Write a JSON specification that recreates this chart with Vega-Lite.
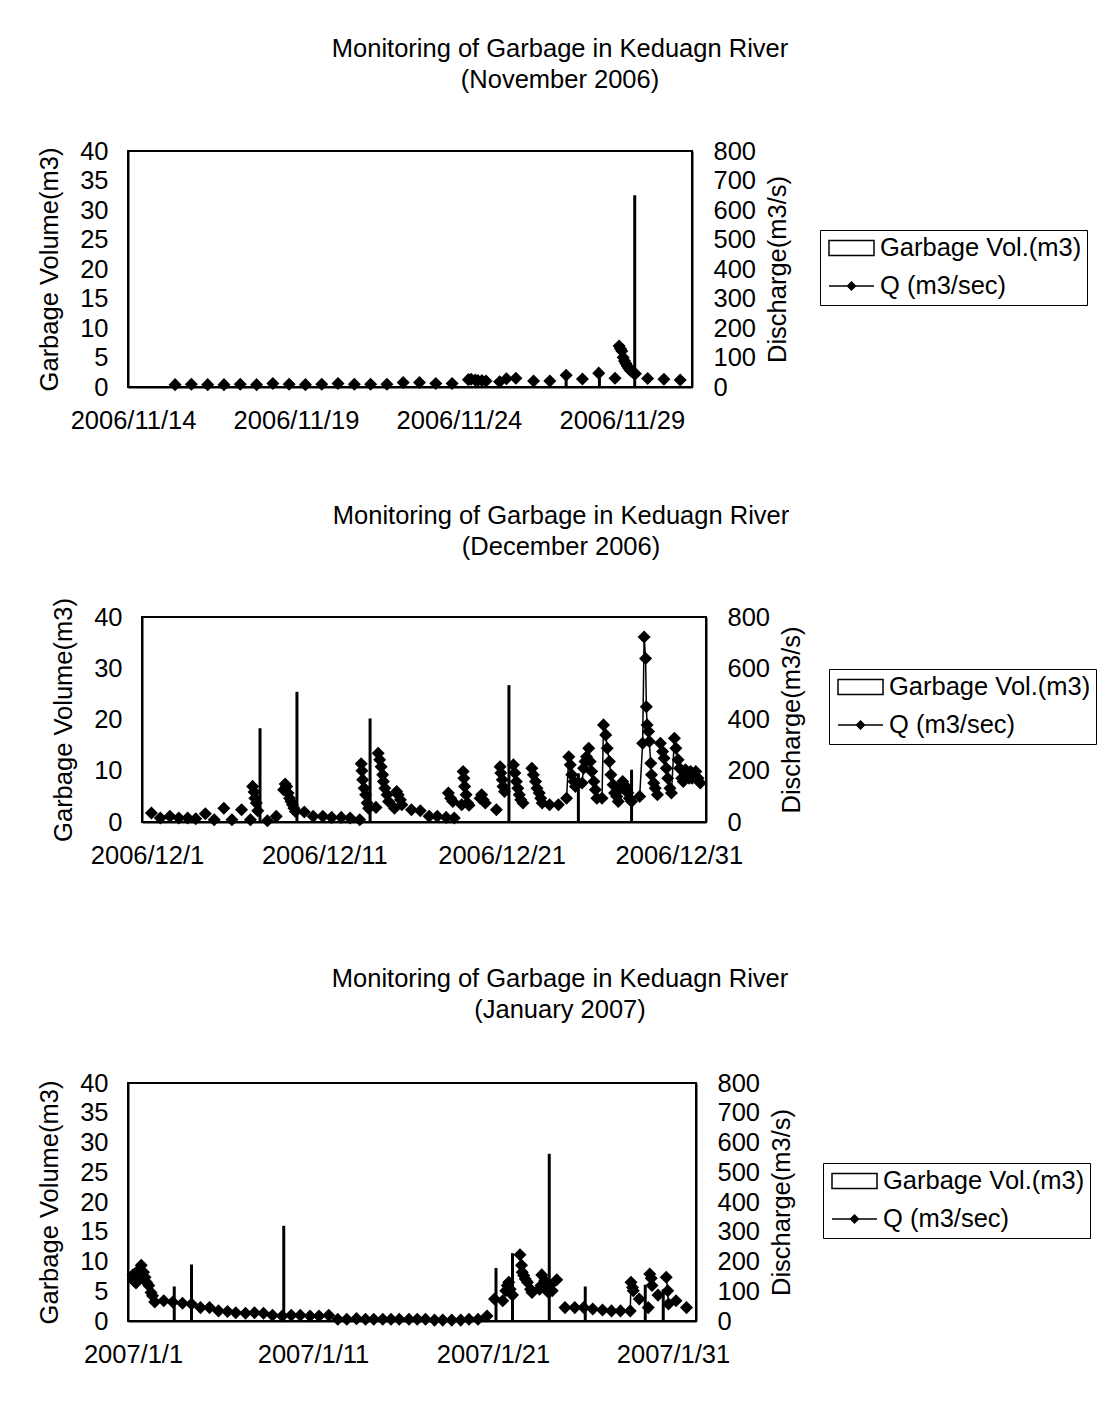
{
  "$schema": "https://vega.github.io/schema/vega-lite/v6.json",
  "background": "white",
  "padding": {"left": 36, "top": 35, "right": 0, "bottom": 0},
  "config": {
    "font": "Liberation Sans",
    "view": {"stroke": "black", "strokeWidth": 2},
    "axis": {"labelFontSize": 25.5, "titleFontSize": 25.5, "titleFontWeight": "normal", "labelColor": "black", "titleColor": "black", "grid": false, "domainColor": "black", "domainWidth": 2, "ticks": false, "labelOverlap": false, "labelFlush": false},
    "axisX": {"labelPadding": 21},
    "axisLeft": {"labelPadding": 20, "titlePadding": 17},
    "axisRight": {"labelPadding": 21, "titlePadding": 10, "titleAngle": 270, "titleBaseline": "top"},
    "title": {"fontSize": 25.5, "fontWeight": "normal", "color": "black", "lineHeight": 31, "anchor": "middle", "frame": "group"},
    "legend": {"title": null, "orient": "none", "strokeColor": "black", "fillColor": "white", "padding": 5, "labelFontSize": 25.5, "labelColor": "black", "labelLimit": 400, "symbolSize": 576, "symbolStrokeWidth": 1.5, "rowPadding": 11, "labelOffset": 29}
  },
  "datasets": {
    "novG": [
      {"t": "2006-11-27T07:00", "g": 1.9},
      {"t": "2006-11-28T07:30", "g": 2.4},
      {"t": "2006-11-29T09:30", "g": 32.5}
    ],
    "novQ": [
      {"t": "2006-11-15T07:00", "q": 8, "s": 1},
      {"t": "2006-11-15T19:00", "q": 9, "s": 2},
      {"t": "2006-11-16T07:00", "q": 8, "s": 3},
      {"t": "2006-11-16T19:00", "q": 8, "s": 4},
      {"t": "2006-11-17T07:00", "q": 9, "s": 5},
      {"t": "2006-11-17T19:00", "q": 8, "s": 6},
      {"t": "2006-11-18T07:00", "q": 12, "s": 7},
      {"t": "2006-11-18T19:00", "q": 9, "s": 8},
      {"t": "2006-11-19T07:00", "q": 8, "s": 9},
      {"t": "2006-11-19T19:00", "q": 9, "s": 10},
      {"t": "2006-11-20T07:00", "q": 12, "s": 11},
      {"t": "2006-11-20T19:00", "q": 9, "s": 12},
      {"t": "2006-11-21T07:00", "q": 9, "s": 13},
      {"t": "2006-11-21T19:00", "q": 9, "s": 14},
      {"t": "2006-11-22T07:00", "q": 15, "s": 15},
      {"t": "2006-11-22T19:00", "q": 15, "s": 16},
      {"t": "2006-11-23T07:00", "q": 12, "s": 17},
      {"t": "2006-11-23T19:00", "q": 12, "s": 18},
      {"t": "2006-11-24T07:00", "q": 25, "s": 19},
      {"t": "2006-11-24T09:00", "q": 26, "s": 19},
      {"t": "2006-11-24T12:00", "q": 24, "s": 19},
      {"t": "2006-11-24T14:00", "q": 22, "s": 19},
      {"t": "2006-11-24T17:00", "q": 22, "s": 19},
      {"t": "2006-11-24T20:00", "q": 20, "s": 19},
      {"t": "2006-11-25T06:00", "q": 18, "s": 20},
      {"t": "2006-11-25T11:00", "q": 28, "s": 21},
      {"t": "2006-11-25T18:00", "q": 30, "s": 22},
      {"t": "2006-11-26T07:00", "q": 20, "s": 23},
      {"t": "2006-11-26T19:00", "q": 20, "s": 24},
      {"t": "2006-11-27T07:00", "q": 40, "s": 25},
      {"t": "2006-11-27T19:00", "q": 27, "s": 26},
      {"t": "2006-11-28T07:00", "q": 47, "s": 27},
      {"t": "2006-11-28T19:00", "q": 30, "s": 28},
      {"t": "2006-11-28T22:00", "q": 139, "s": 29},
      {"t": "2006-11-28T23:00", "q": 130, "s": 29},
      {"t": "2006-11-29T00:00", "q": 122, "s": 29},
      {"t": "2006-11-29T01:00", "q": 100, "s": 29},
      {"t": "2006-11-29T02:00", "q": 88, "s": 29},
      {"t": "2006-11-29T03:00", "q": 80, "s": 29},
      {"t": "2006-11-29T04:00", "q": 71, "s": 29},
      {"t": "2006-11-29T05:00", "q": 64, "s": 29},
      {"t": "2006-11-29T06:00", "q": 58, "s": 29},
      {"t": "2006-11-29T07:00", "q": 54, "s": 29},
      {"t": "2006-11-29T08:00", "q": 50, "s": 29},
      {"t": "2006-11-29T09:00", "q": 47, "s": 29},
      {"t": "2006-11-29T10:00", "q": 45, "s": 29},
      {"t": "2006-11-29T19:00", "q": 29, "s": 30},
      {"t": "2006-11-30T07:00", "q": 26, "s": 31},
      {"t": "2006-11-30T19:00", "q": 24, "s": 32}
    ],
    "decG": [
      {"t": "2006-12-07T09:00", "g": 18.3},
      {"t": "2006-12-09T11:00", "g": 25.4},
      {"t": "2006-12-13T14:00", "g": 20.2},
      {"t": "2006-12-21T10:00", "g": 26.7},
      {"t": "2006-12-25T08:00", "g": 9.5},
      {"t": "2006-12-28T08:00", "g": 10.2}
    ],
    "decQ": [
      {"t": "2006-12-01T06:00", "q": 35, "s": 1},
      {"t": "2006-12-01T18:00", "q": 16, "s": 2},
      {"t": "2006-12-02T07:00", "q": 22, "s": 3},
      {"t": "2006-12-02T19:00", "q": 16, "s": 4},
      {"t": "2006-12-03T07:00", "q": 16, "s": 5},
      {"t": "2006-12-03T18:00", "q": 13, "s": 6},
      {"t": "2006-12-04T07:00", "q": 32, "s": 7},
      {"t": "2006-12-04T19:00", "q": 9, "s": 8},
      {"t": "2006-12-05T08:00", "q": 54, "s": 9},
      {"t": "2006-12-05T19:00", "q": 9, "s": 10},
      {"t": "2006-12-06T08:00", "q": 48, "s": 11},
      {"t": "2006-12-06T20:00", "q": 9, "s": 12},
      {"t": "2006-12-06T23:00", "q": 139, "s": 13},
      {"t": "2006-12-07T01:00", "q": 117, "s": 13},
      {"t": "2006-12-07T02:00", "q": 93, "s": 13},
      {"t": "2006-12-07T04:00", "q": 74, "s": 13},
      {"t": "2006-12-07T06:00", "q": 44, "s": 13},
      {"t": "2006-12-07T19:00", "q": 5, "s": 14},
      {"t": "2006-12-08T07:00", "q": 22, "s": 15},
      {"t": "2006-12-08T17:00", "q": 126, "s": 16},
      {"t": "2006-12-08T19:00", "q": 148, "s": 16},
      {"t": "2006-12-08T21:00", "q": 139, "s": 16},
      {"t": "2006-12-08T23:00", "q": 113, "s": 16},
      {"t": "2006-12-09T01:00", "q": 93, "s": 16},
      {"t": "2006-12-09T03:00", "q": 80, "s": 16},
      {"t": "2006-12-09T05:00", "q": 67, "s": 16},
      {"t": "2006-12-09T07:00", "q": 54, "s": 16},
      {"t": "2006-12-09T09:00", "q": 41, "s": 16},
      {"t": "2006-12-09T21:00", "q": 39, "s": 17},
      {"t": "2006-12-10T09:00", "q": 22, "s": 18},
      {"t": "2006-12-10T22:00", "q": 22, "s": 19},
      {"t": "2006-12-11T10:00", "q": 18, "s": 20},
      {"t": "2006-12-11T23:00", "q": 18, "s": 21},
      {"t": "2006-12-12T11:00", "q": 16, "s": 22},
      {"t": "2006-12-13T00:00", "q": 9, "s": 23},
      {"t": "2006-12-13T02:00", "q": 227, "s": 24},
      {"t": "2006-12-13T03:00", "q": 200, "s": 24},
      {"t": "2006-12-13T04:00", "q": 165, "s": 24},
      {"t": "2006-12-13T06:00", "q": 132, "s": 24},
      {"t": "2006-12-13T08:00", "q": 106, "s": 24},
      {"t": "2006-12-13T10:00", "q": 74, "s": 24},
      {"t": "2006-12-13T12:00", "q": 54, "s": 24},
      {"t": "2006-12-13T22:00", "q": 57, "s": 25},
      {"t": "2006-12-14T01:00", "q": 268, "s": 26},
      {"t": "2006-12-14T03:00", "q": 243, "s": 26},
      {"t": "2006-12-14T05:00", "q": 216, "s": 26},
      {"t": "2006-12-14T07:00", "q": 184, "s": 26},
      {"t": "2006-12-14T08:00", "q": 158, "s": 26},
      {"t": "2006-12-14T10:00", "q": 132, "s": 26},
      {"t": "2006-12-14T13:00", "q": 106, "s": 26},
      {"t": "2006-12-14T15:00", "q": 80, "s": 26},
      {"t": "2006-12-14T23:00", "q": 54, "s": 27},
      {"t": "2006-12-15T02:00", "q": 119, "s": 28},
      {"t": "2006-12-15T04:00", "q": 106, "s": 28},
      {"t": "2006-12-15T07:00", "q": 87, "s": 28},
      {"t": "2006-12-15T09:00", "q": 67, "s": 28},
      {"t": "2006-12-15T22:00", "q": 48, "s": 29},
      {"t": "2006-12-16T10:00", "q": 44, "s": 30},
      {"t": "2006-12-16T22:00", "q": 22, "s": 31},
      {"t": "2006-12-17T09:00", "q": 22, "s": 32},
      {"t": "2006-12-17T21:00", "q": 18, "s": 33},
      {"t": "2006-12-18T00:00", "q": 113, "s": 34},
      {"t": "2006-12-18T03:00", "q": 93, "s": 34},
      {"t": "2006-12-18T06:00", "q": 80, "s": 34},
      {"t": "2006-12-18T08:00", "q": 16, "s": 35},
      {"t": "2006-12-18T18:00", "q": 67, "s": 36},
      {"t": "2006-12-18T20:00", "q": 197, "s": 37},
      {"t": "2006-12-18T21:00", "q": 171, "s": 37},
      {"t": "2006-12-18T22:00", "q": 139, "s": 37},
      {"t": "2006-12-19T00:00", "q": 106, "s": 37},
      {"t": "2006-12-19T02:00", "q": 74, "s": 37},
      {"t": "2006-12-19T04:00", "q": 65, "s": 37},
      {"t": "2006-12-19T19:00", "q": 93, "s": 38},
      {"t": "2006-12-19T21:00", "q": 106, "s": 38},
      {"t": "2006-12-19T23:00", "q": 87, "s": 38},
      {"t": "2006-12-20T02:00", "q": 74, "s": 38},
      {"t": "2006-12-20T17:00", "q": 48, "s": 39},
      {"t": "2006-12-20T22:00", "q": 216, "s": 40},
      {"t": "2006-12-20T23:00", "q": 191, "s": 40},
      {"t": "2006-12-21T01:00", "q": 165, "s": 40},
      {"t": "2006-12-21T02:00", "q": 139, "s": 40},
      {"t": "2006-12-21T04:00", "q": 119, "s": 40},
      {"t": "2006-12-21T16:00", "q": 223, "s": 41},
      {"t": "2006-12-21T18:00", "q": 191, "s": 41},
      {"t": "2006-12-21T20:00", "q": 158, "s": 41},
      {"t": "2006-12-21T22:00", "q": 132, "s": 41},
      {"t": "2006-12-22T00:00", "q": 106, "s": 41},
      {"t": "2006-12-22T02:00", "q": 87, "s": 41},
      {"t": "2006-12-22T05:00", "q": 74, "s": 41},
      {"t": "2006-12-22T17:00", "q": 210, "s": 42},
      {"t": "2006-12-22T19:00", "q": 184, "s": 42},
      {"t": "2006-12-22T22:00", "q": 158, "s": 42},
      {"t": "2006-12-23T00:00", "q": 132, "s": 42},
      {"t": "2006-12-23T03:00", "q": 113, "s": 42},
      {"t": "2006-12-23T05:00", "q": 93, "s": 42},
      {"t": "2006-12-23T07:00", "q": 74, "s": 42},
      {"t": "2006-12-23T17:00", "q": 67, "s": 43},
      {"t": "2006-12-24T05:00", "q": 67, "s": 44},
      {"t": "2006-12-24T16:00", "q": 93, "s": 45},
      {"t": "2006-12-24T19:00", "q": 255, "s": 45},
      {"t": "2006-12-24T21:00", "q": 223, "s": 45},
      {"t": "2006-12-24T23:00", "q": 184, "s": 45},
      {"t": "2006-12-25T02:00", "q": 158, "s": 45},
      {"t": "2006-12-25T04:00", "q": 139, "s": 45},
      {"t": "2006-12-25T13:00", "q": 152, "s": 46},
      {"t": "2006-12-25T15:00", "q": 210, "s": 46},
      {"t": "2006-12-25T17:00", "q": 236, "s": 46},
      {"t": "2006-12-25T19:00", "q": 255, "s": 46},
      {"t": "2006-12-25T22:00", "q": 288, "s": 46},
      {"t": "2006-12-26T00:00", "q": 236, "s": 46},
      {"t": "2006-12-26T02:00", "q": 197, "s": 46},
      {"t": "2006-12-26T05:00", "q": 158, "s": 46},
      {"t": "2006-12-26T07:00", "q": 126, "s": 46},
      {"t": "2006-12-26T09:00", "q": 93, "s": 46},
      {"t": "2006-12-26T16:00", "q": 93, "s": 47},
      {"t": "2006-12-26T18:00", "q": 379, "s": 47},
      {"t": "2006-12-26T21:00", "q": 340, "s": 47},
      {"t": "2006-12-26T23:00", "q": 288, "s": 47},
      {"t": "2006-12-27T02:00", "q": 236, "s": 47},
      {"t": "2006-12-27T04:00", "q": 184, "s": 47},
      {"t": "2006-12-27T07:00", "q": 145, "s": 47},
      {"t": "2006-12-27T09:00", "q": 113, "s": 47},
      {"t": "2006-12-27T12:00", "q": 100, "s": 47},
      {"t": "2006-12-27T14:00", "q": 80, "s": 47},
      {"t": "2006-12-27T17:00", "q": 132, "s": 48},
      {"t": "2006-12-27T20:00", "q": 158, "s": 48},
      {"t": "2006-12-27T22:00", "q": 145, "s": 48},
      {"t": "2006-12-28T00:00", "q": 132, "s": 48},
      {"t": "2006-12-28T03:00", "q": 113, "s": 48},
      {"t": "2006-12-28T05:00", "q": 93, "s": 48},
      {"t": "2006-12-28T08:00", "q": 80, "s": 49},
      {"t": "2006-12-28T19:00", "q": 100, "s": 50},
      {"t": "2006-12-28T23:00", "q": 307, "s": 50},
      {"t": "2006-12-29T01:00", "q": 722, "s": 50},
      {"t": "2006-12-29T03:00", "q": 638, "s": 50},
      {"t": "2006-12-29T04:00", "q": 450, "s": 50},
      {"t": "2006-12-29T05:00", "q": 379, "s": 50},
      {"t": "2006-12-29T07:00", "q": 353, "s": 50},
      {"t": "2006-12-29T08:00", "q": 314, "s": 50},
      {"t": "2006-12-29T10:00", "q": 229, "s": 50},
      {"t": "2006-12-29T11:00", "q": 184, "s": 50},
      {"t": "2006-12-29T14:00", "q": 152, "s": 50},
      {"t": "2006-12-29T16:00", "q": 132, "s": 50},
      {"t": "2006-12-29T19:00", "q": 106, "s": 50},
      {"t": "2006-12-29T23:00", "q": 307, "s": 51},
      {"t": "2006-12-30T02:00", "q": 275, "s": 51},
      {"t": "2006-12-30T04:00", "q": 249, "s": 51},
      {"t": "2006-12-30T07:00", "q": 210, "s": 51},
      {"t": "2006-12-30T09:00", "q": 171, "s": 51},
      {"t": "2006-12-30T12:00", "q": 132, "s": 51},
      {"t": "2006-12-30T14:00", "q": 113, "s": 51},
      {"t": "2006-12-30T18:00", "q": 327, "s": 51},
      {"t": "2006-12-30T20:00", "q": 288, "s": 51},
      {"t": "2006-12-30T23:00", "q": 243, "s": 51},
      {"t": "2006-12-31T01:00", "q": 210, "s": 51},
      {"t": "2006-12-31T04:00", "q": 171, "s": 51},
      {"t": "2006-12-31T06:00", "q": 158, "s": 51},
      {"t": "2006-12-31T09:00", "q": 204, "s": 51},
      {"t": "2006-12-31T11:00", "q": 184, "s": 51},
      {"t": "2006-12-31T14:00", "q": 171, "s": 51},
      {"t": "2006-12-31T16:00", "q": 197, "s": 51},
      {"t": "2006-12-31T18:00", "q": 171, "s": 51},
      {"t": "2006-12-31T21:00", "q": 184, "s": 51},
      {"t": "2006-12-31T23:00", "q": 197, "s": 51},
      {"t": "2007-01-01T02:00", "q": 171, "s": 51},
      {"t": "2007-01-01T05:00", "q": 152, "s": 51}
    ],
    "janG": [
      {"t": "2007-01-03T07:00", "g": 5.8},
      {"t": "2007-01-04T06:00", "g": 9.5},
      {"t": "2007-01-09T09:00", "g": 16.0},
      {"t": "2007-01-21T04:00", "g": 8.9},
      {"t": "2007-01-22T02:00", "g": 11.4},
      {"t": "2007-01-24T03:00", "g": 28.1},
      {"t": "2007-01-26T03:00", "g": 5.8},
      {"t": "2007-01-29T11:00", "g": 6.1},
      {"t": "2007-01-30T11:00", "g": 5.3}
    ],
    "janQ": [
      {"t": "2007-01-01T00:00", "q": 155, "s": 1},
      {"t": "2007-01-01T01:00", "q": 136, "s": 1},
      {"t": "2007-01-01T04:00", "q": 128, "s": 1},
      {"t": "2007-01-01T06:00", "q": 141, "s": 1},
      {"t": "2007-01-01T09:00", "q": 175, "s": 1},
      {"t": "2007-01-01T11:00", "q": 187, "s": 1},
      {"t": "2007-01-01T14:00", "q": 164, "s": 1},
      {"t": "2007-01-01T16:00", "q": 147, "s": 1},
      {"t": "2007-01-01T18:00", "q": 130, "s": 1},
      {"t": "2007-01-01T21:00", "q": 119, "s": 1},
      {"t": "2007-01-02T00:00", "q": 96, "s": 1},
      {"t": "2007-01-02T02:00", "q": 85, "s": 1},
      {"t": "2007-01-02T05:00", "q": 64, "s": 1},
      {"t": "2007-01-02T17:00", "q": 68, "s": 2},
      {"t": "2007-01-03T05:00", "q": 64, "s": 3},
      {"t": "2007-01-03T18:00", "q": 60, "s": 4},
      {"t": "2007-01-04T06:00", "q": 57, "s": 5},
      {"t": "2007-01-04T18:00", "q": 45, "s": 6},
      {"t": "2007-01-05T06:00", "q": 45, "s": 7},
      {"t": "2007-01-05T18:00", "q": 34, "s": 8},
      {"t": "2007-01-06T06:00", "q": 32, "s": 9},
      {"t": "2007-01-06T17:00", "q": 28, "s": 10},
      {"t": "2007-01-07T06:00", "q": 26, "s": 11},
      {"t": "2007-01-07T18:00", "q": 28, "s": 12},
      {"t": "2007-01-08T06:00", "q": 26, "s": 13},
      {"t": "2007-01-08T18:00", "q": 19, "s": 14},
      {"t": "2007-01-09T07:00", "q": 17, "s": 15},
      {"t": "2007-01-09T19:00", "q": 19, "s": 16},
      {"t": "2007-01-10T07:00", "q": 19, "s": 17},
      {"t": "2007-01-10T20:00", "q": 17, "s": 18},
      {"t": "2007-01-11T08:00", "q": 17, "s": 19},
      {"t": "2007-01-11T21:00", "q": 19, "s": 20},
      {"t": "2007-01-12T09:00", "q": 6, "s": 21},
      {"t": "2007-01-12T21:00", "q": 6, "s": 22},
      {"t": "2007-01-13T10:00", "q": 8, "s": 23},
      {"t": "2007-01-13T22:00", "q": 6, "s": 24},
      {"t": "2007-01-14T09:00", "q": 6, "s": 25},
      {"t": "2007-01-14T21:00", "q": 6, "s": 26},
      {"t": "2007-01-15T08:00", "q": 6, "s": 27},
      {"t": "2007-01-15T19:00", "q": 6, "s": 28},
      {"t": "2007-01-16T08:00", "q": 6, "s": 29},
      {"t": "2007-01-16T19:00", "q": 6, "s": 30},
      {"t": "2007-01-17T06:00", "q": 6, "s": 31},
      {"t": "2007-01-17T18:00", "q": 3, "s": 32},
      {"t": "2007-01-18T05:00", "q": 3, "s": 33},
      {"t": "2007-01-18T17:00", "q": 3, "s": 34},
      {"t": "2007-01-19T05:00", "q": 3, "s": 35},
      {"t": "2007-01-19T16:00", "q": 6, "s": 36},
      {"t": "2007-01-20T04:00", "q": 6, "s": 37},
      {"t": "2007-01-20T16:00", "q": 17, "s": 38},
      {"t": "2007-01-21T02:00", "q": 74, "s": 39},
      {"t": "2007-01-21T13:00", "q": 68, "s": 40},
      {"t": "2007-01-21T17:00", "q": 102, "s": 41},
      {"t": "2007-01-21T19:00", "q": 119, "s": 41},
      {"t": "2007-01-21T21:00", "q": 130, "s": 41},
      {"t": "2007-01-21T23:00", "q": 107, "s": 41},
      {"t": "2007-01-22T02:00", "q": 87, "s": 41},
      {"t": "2007-01-22T12:00", "q": 223, "s": 42},
      {"t": "2007-01-22T14:00", "q": 187, "s": 42},
      {"t": "2007-01-22T15:00", "q": 164, "s": 42},
      {"t": "2007-01-22T17:00", "q": 153, "s": 42},
      {"t": "2007-01-22T19:00", "q": 141, "s": 42},
      {"t": "2007-01-22T22:00", "q": 130, "s": 42},
      {"t": "2007-01-23T02:00", "q": 107, "s": 42},
      {"t": "2007-01-23T04:00", "q": 96, "s": 42},
      {"t": "2007-01-23T14:00", "q": 107, "s": 43},
      {"t": "2007-01-23T16:00", "q": 119, "s": 43},
      {"t": "2007-01-23T17:00", "q": 155, "s": 43},
      {"t": "2007-01-23T21:00", "q": 136, "s": 43},
      {"t": "2007-01-23T23:00", "q": 107, "s": 43},
      {"t": "2007-01-24T02:00", "q": 96, "s": 43},
      {"t": "2007-01-24T04:00", "q": 119, "s": 43},
      {"t": "2007-01-24T07:00", "q": 102, "s": 43},
      {"t": "2007-01-24T13:00", "q": 139, "s": 44},
      {"t": "2007-01-25T00:00", "q": 45, "s": 45},
      {"t": "2007-01-25T13:00", "q": 45, "s": 46},
      {"t": "2007-01-26T01:00", "q": 45, "s": 47},
      {"t": "2007-01-26T13:00", "q": 40, "s": 48},
      {"t": "2007-01-27T02:00", "q": 37, "s": 49},
      {"t": "2007-01-27T14:00", "q": 34, "s": 50},
      {"t": "2007-01-28T02:00", "q": 34, "s": 51},
      {"t": "2007-01-28T15:00", "q": 34, "s": 52},
      {"t": "2007-01-28T16:00", "q": 130, "s": 52},
      {"t": "2007-01-28T18:00", "q": 113, "s": 52},
      {"t": "2007-01-28T19:00", "q": 102, "s": 52},
      {"t": "2007-01-29T03:00", "q": 74, "s": 53},
      {"t": "2007-01-29T15:00", "q": 45, "s": 54},
      {"t": "2007-01-29T17:00", "q": 158, "s": 55},
      {"t": "2007-01-29T19:00", "q": 144, "s": 55},
      {"t": "2007-01-29T20:00", "q": 119, "s": 55},
      {"t": "2007-01-30T04:00", "q": 87, "s": 56},
      {"t": "2007-01-30T15:00", "q": 147, "s": 57},
      {"t": "2007-01-30T17:00", "q": 102, "s": 57},
      {"t": "2007-01-30T18:00", "q": 57, "s": 57},
      {"t": "2007-01-31T04:00", "q": 68, "s": 58},
      {"t": "2007-01-31T18:00", "q": 45, "s": 59}
    ]
  },
  "columns": 1,
  "align": "none",
  "spacing": 68,
  "resolve": {"scale": {"shape": "independent", "fill": "independent"}, "legend": {"shape": "independent", "fill": "independent"}},
  "concat": [
    {
      "title": {"text": ["Monitoring of Garbage in Keduagn River", "(November 2006)"], "dx": 150, "offset": 46},
      "width": 564,
      "height": 236,
      "layer": [
        {
          "data": {"name": "novG"},
          "mark": {"type": "bar", "width": 3, "color": "black", "opacity": 1},
          "encoding": {
            "x": {"field": "t", "type": "temporal", "scale": {"domain": [{"year": 2006, "month": 11, "date": 14}, {"year": 2006, "month": 12, "date": 1}]}, "axis": {"title": null, "format": "%Y/%-m/%-d", "values": [{"year": 2006, "month": 11, "date": 14}, {"year": 2006, "month": 11, "date": 19}, {"year": 2006, "month": 11, "date": 24}, {"year": 2006, "month": 11, "date": 29}]}},
            "y": {"field": "g", "type": "quantitative", "scale": {"domain": [0, 40]}, "axis": {"title": "Garbage Volume(m3)", "values": [0, 5, 10, 15, 20, 25, 30, 35, 40]}}
          }
        },
        {
          "layer": [
            {
              "data": {"name": "novQ"},
              "mark": {"type": "line", "color": "black", "strokeWidth": 1.5, "point": {"shape": "diamond", "size": 170, "filled": true, "color": "black", "opacity": 1}},
              "encoding": {
                "x": {"field": "t", "type": "temporal", "scale": {"domain": [{"year": 2006, "month": 11, "date": 14}, {"year": 2006, "month": 12, "date": 1}]}},
                "y": {"field": "q", "type": "quantitative", "scale": {"domain": [0, 800]}, "axis": {"orient": "right", "title": "Discharge(m3/s)", "values": [0, 100, 200, 300, 400, 500, 600, 700, 800]}},
                "detail": {"field": "s", "type": "nominal"}
              }
            },
            {
              "data": {"values": []},
              "mark": {"type": "point", "filled": true, "stroke": "black", "strokeWidth": 1.5, "opacity": 1},
              "encoding": {
                "x": {"field": "t", "type": "temporal", "scale": {"domain": [{"year": 2006, "month": 11, "date": 14}, {"year": 2006, "month": 12, "date": 1}]}},
                "y": {"field": "q", "type": "quantitative", "scale": {"domain": [0, 800]}, "axis": {"orient": "right", "title": "Discharge(m3/s)", "values": [0, 100, 200, 300, 400, 500, 600, 700, 800]}},
                "shape": {
                  "datum": "Q (m3/sec)",
                  "scale": {"domain": ["Garbage Vol.(m3)", "Q (m3/sec)"], "range": ["M-0.75,-0.625H3V0.625H-0.75Z", "M-0.75,0H3M1.125,-0.33L1.455,0L1.125,0.33L0.795,0Z"]},
                  "legend": {"legendX": 692, "legendY": 79}
                },
                "fill": {
                  "datum": "Q (m3/sec)",
                  "scale": {"domain": ["Garbage Vol.(m3)", "Q (m3/sec)"], "range": ["white", "black"]},
                  "legend": {"legendX": 692, "legendY": 79}
                }
              }
            }
          ]
        }
      ],
      "resolve": {"scale": {"y": "independent"}}
    },
    {
      "columns": 1,
      "align": "none",
      "spacing": 95,
      "resolve": {"scale": {"shape": "independent", "fill": "independent"}, "legend": {"shape": "independent", "fill": "independent"}},
      "concat": [
        {
          "spacing": -79,
          "resolve": {"scale": {"shape": "independent", "fill": "independent"}, "legend": {"shape": "independent", "fill": "independent"}},
          "hconcat": [
            {"width": 1, "height": 1, "data": {"values": []}, "mark": {"type": "point", "opacity": 0}, "view": {"stroke": null}},
            {
              "title": {"text": ["Monitoring of Garbage in Keduagn River", "(December 2006)"], "dx": 137, "offset": 37},
              "width": 564,
              "height": 205,
              "layer": [
                {
                  "data": {"name": "decG"},
                  "mark": {"type": "bar", "width": 3, "color": "black", "opacity": 1},
                  "encoding": {
                    "x": {"field": "t", "type": "temporal", "scale": {"domain": [{"year": 2006, "month": 12, "date": 1}, {"year": 2007, "month": 1, "date": 1, "hours": 6}]}, "axis": {"title": null, "format": "%Y/%-m/%-d", "values": [{"year": 2006, "month": 12, "date": 1}, {"year": 2006, "month": 12, "date": 11}, {"year": 2006, "month": 12, "date": 21}, {"year": 2006, "month": 12, "date": 31}]}},
                    "y": {"field": "g", "type": "quantitative", "scale": {"domain": [0, 40]}, "axis": {"title": "Garbage Volume(m3)", "values": [0, 10, 20, 30, 40]}}
                  }
                },
                {
                  "layer": [
                    {
                      "data": {"name": "decQ"},
                      "mark": {"type": "line", "color": "black", "strokeWidth": 1.5, "point": {"shape": "diamond", "size": 170, "filled": true, "color": "black", "opacity": 1}},
                      "encoding": {
                        "x": {"field": "t", "type": "temporal", "scale": {"domain": [{"year": 2006, "month": 12, "date": 1}, {"year": 2007, "month": 1, "date": 1, "hours": 6}]}},
                        "y": {"field": "q", "type": "quantitative", "scale": {"domain": [0, 800]}, "axis": {"orient": "right", "title": "Discharge(m3/s)", "values": [0, 200, 400, 600, 800]}},
                        "detail": {"field": "s", "type": "nominal"}
                      }
                    },
                    {
                      "data": {"values": []},
                      "mark": {"type": "point", "filled": true, "stroke": "black", "strokeWidth": 1.5, "opacity": 1},
                      "encoding": {
                        "x": {"field": "t", "type": "temporal", "scale": {"domain": [{"year": 2006, "month": 12, "date": 1}, {"year": 2007, "month": 1, "date": 1, "hours": 6}]}},
                        "y": {"field": "q", "type": "quantitative", "scale": {"domain": [0, 800]}, "axis": {"orient": "right", "title": "Discharge(m3/s)", "values": [0, 200, 400, 600, 800]}},
                        "shape": {
                          "datum": "Q (m3/sec)",
                          "scale": {"domain": ["Garbage Vol.(m3)", "Q (m3/sec)"], "range": ["M-0.75,-0.625H3V0.625H-0.75Z", "M-0.75,0H3M1.125,-0.33L1.455,0L1.125,0.33L0.795,0Z"]},
                          "legend": {"legendX": 687, "legendY": 52}
                        },
                        "fill": {
                          "datum": "Q (m3/sec)",
                          "scale": {"domain": ["Garbage Vol.(m3)", "Q (m3/sec)"], "range": ["white", "black"]},
                          "legend": {"legendX": 687, "legendY": 52}
                        }
                      }
                    }
                  ]
                }
              ],
              "resolve": {"scale": {"y": "independent"}}
            }
          ]
        },
        {
          "title": {"text": ["Monitoring of Garbage in Keduagn River", "(January 2007)"], "dx": 148, "offset": 48},
          "width": 568,
          "height": 238,
          "layer": [
            {
              "data": {"name": "janG"},
              "mark": {"type": "bar", "width": 3, "color": "black", "opacity": 1},
              "encoding": {
                "x": {"field": "t", "type": "temporal", "scale": {"domain": [{"year": 2007, "month": 1, "date": 1}, {"year": 2007, "month": 2, "date": 1}]}, "axis": {"title": null, "format": "%Y/%-m/%-d", "values": [{"year": 2007, "month": 1, "date": 1}, {"year": 2007, "month": 1, "date": 11}, {"year": 2007, "month": 1, "date": 21}, {"year": 2007, "month": 1, "date": 31}]}},
                "y": {"field": "g", "type": "quantitative", "scale": {"domain": [0, 40]}, "axis": {"title": "Garbage Volume(m3)", "values": [0, 5, 10, 15, 20, 25, 30, 35, 40]}}
              }
            },
            {
              "layer": [
                {
                  "data": {"name": "janQ"},
                  "mark": {"type": "line", "color": "black", "strokeWidth": 1.5, "point": {"shape": "diamond", "size": 170, "filled": true, "color": "black", "opacity": 1}},
                  "encoding": {
                    "x": {"field": "t", "type": "temporal", "scale": {"domain": [{"year": 2007, "month": 1, "date": 1}, {"year": 2007, "month": 2, "date": 1}]}},
                    "y": {"field": "q", "type": "quantitative", "scale": {"domain": [0, 800]}, "axis": {"orient": "right", "title": "Discharge(m3/s)", "values": [0, 100, 200, 300, 400, 500, 600, 700, 800]}},
                    "detail": {"field": "s", "type": "nominal"}
                  }
                },
                {
                  "data": {"values": []},
                  "mark": {"type": "point", "filled": true, "stroke": "black", "strokeWidth": 1.5, "opacity": 1},
                  "encoding": {
                    "x": {"field": "t", "type": "temporal", "scale": {"domain": [{"year": 2007, "month": 1, "date": 1}, {"year": 2007, "month": 2, "date": 1}]}},
                    "y": {"field": "q", "type": "quantitative", "scale": {"domain": [0, 800]}, "axis": {"orient": "right", "title": "Discharge(m3/s)", "values": [0, 100, 200, 300, 400, 500, 600, 700, 800]}},
                    "shape": {
                      "datum": "Q (m3/sec)",
                      "scale": {"domain": ["Garbage Vol.(m3)", "Q (m3/sec)"], "range": ["M-0.75,-0.625H3V0.625H-0.75Z", "M-0.75,0H3M1.125,-0.33L1.455,0L1.125,0.33L0.795,0Z"]},
                      "legend": {"legendX": 695, "legendY": 80}
                    },
                    "fill": {
                      "datum": "Q (m3/sec)",
                      "scale": {"domain": ["Garbage Vol.(m3)", "Q (m3/sec)"], "range": ["white", "black"]},
                      "legend": {"legendX": 695, "legendY": 80}
                    }
                  }
                }
              ]
            }
          ],
          "resolve": {"scale": {"y": "independent"}}
        }
      ]
    }
  ]
}
